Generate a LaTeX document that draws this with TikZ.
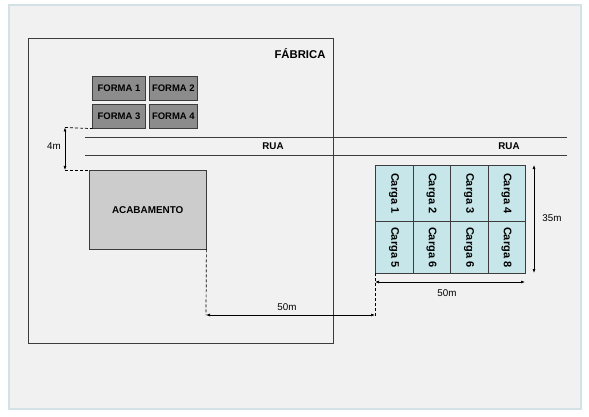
\documentclass[tikz,border=0pt]{standalone}
\usepackage{fontspec}
\setmainfont{Liberation Sans}
\usetikzlibrary{positioning}
\usetikzlibrary{arrows.meta}
\definecolor{panelgray}{HTML}{F1F1F1}
\definecolor{panelrim}{HTML}{D3E2E4}
\definecolor{formagray}{HTML}{8C8C8C}
\definecolor{acabgray}{HTML}{CCCCCC}
\definecolor{cargacyan}{HTML}{C6E6E9}
\definecolor{linegray}{HTML}{3C3C3C}
\tikzset{
    forma/.style = {draw = linegray, fill = formagray, minimum height = 24pt, inner sep = 0pt, font = \fontsize{9.5}{10}\selectfont\bfseries},
    carga/.style = {draw = linegray, fill = cargacyan, minimum width = 37.5pt, inner sep = 0pt, anchor = north west},
    dimline/.style = {{Latex[length=4pt,width=3pt]}-{Latex[length=4pt,width=3pt]}, line width = 0.6pt},
    guide/.style = {draw = black, line width = 0.7pt, dash pattern = on 3pt off 2pt},
    medida/.style = {font = \fontsize{9.8}{10}\selectfont},
}

\begin{document}
\begin{tikzpicture}[x = 1pt, y = -1pt, node distance = 4pt]
        \useasboundingbox (0, 0) rectangle (589, 417);
        \filldraw[fill = panelgray, draw = panelrim, line width = 1.5pt] (9, 5) rectangle (581, 409);
        % fabrica
        \node[draw = linegray, line width = 0.6pt, minimum width = 305pt, minimum height = 305pt, anchor = north west] (fabrica) at (28, 38) {};
        \node[font = \fontsize{11.3}{12}\selectfont\bfseries] (fabricalabel) at (300, 54) {FÁBRICA};
        % formas
        \node[forma, minimum width = 53pt] (forma1) at (119, 88) {FORMA 1};
        \node[forma, minimum width = 48pt, right = 3.5pt of forma1] (forma2) {FORMA 2};
        \node[forma, minimum width = 53pt, below = 4pt of forma1] (forma3) {FORMA 3};
        \node[forma, minimum width = 48pt, right = 3.5pt of forma3] (forma4) {FORMA 4};
        % rua
        \coordinate (ruaNW) at (85, 137);
        \coordinate (ruaNE) at (567, 137);
        \coordinate (ruaSW) at (85, 155);
        \coordinate (ruaSE) at (567, 155);
        \draw[linegray] (ruaNW) -- (ruaNE);
        \draw[linegray] (ruaSW) -- (ruaSE);
        \node[font = \fontsize{9.8}{10}\selectfont\bfseries] (rua1) at (273, 146) {RUA};
        \node[font = \fontsize{9.8}{10}\selectfont\bfseries] (rua2) at (509, 146) {RUA};
        % acabamento
        \node[draw = linegray, fill = acabgray, minimum width = 117pt, minimum height = 79pt, anchor = north west, font = \fontsize{9.9}{10}\selectfont\bfseries] (acab) at (89, 170) {ACABAMENTO};
        % cargas
        \foreach \c/\t in {1/1, 2/2, 3/3, 4/4}
            {
                \node[carga, minimum height = 56pt] (carga\c) at ({375 + 37.5*(\c - 1)}, 165) {};
                \node[rotate = -90, font = \fontsize{11}{12}\selectfont\bfseries] at (carga\c.center) {Carga \t};
            }
        \foreach \c/\t in {5/5, 6/6, 7/6, 8/8}
            {
                \node[carga, minimum height = 52pt] (carga\c) at ({375 + 37.5*(\c - 5)}, 221) {};
                \node[rotate = -90, font = \fontsize{11}{12}\selectfont\bfseries] at (carga\c.center) {Carga \t};
            }
        % medidas
        \coordinate (m4top) at (65, 127.5);
        \coordinate (m4bot) at (65, 170);
        \draw[guide] (m4top) -- (forma3.south west);
        \draw[guide] (m4bot) -- (acab.north west);
        \draw[dimline] (m4top) -- (m4bot);
        \node[medida] (m4label) at (54, 146) {4m};
        \coordinate (m50L) at (206, 315);
        \coordinate (m50R) at (375, 315);
        \coordinate (m50end) at (375, 318);
        \draw[guide] (acab.south east) -- (m50L);
        \draw[guide] (carga5.south west) -- (m50end);
        \draw[dimline] (m50L) -- (m50R);
        \node[medida] (m50label) at (287, 307) {50m};
        \coordinate (m35top) at (534, 165);
        \coordinate (m35bot) at (534, 273);
        \draw[dimline] (m35top) -- (m35bot);
        \node[medida] (m35label) at (552, 218) {35m};
        \coordinate (mcargaL) at (375, 282);
        \coordinate (mcargaR) at (525, 282);
        \draw[dimline] (mcargaL) -- (mcargaR);
        \node[medida] (mcargalabel) at (447, 293) {50m};
    \end{tikzpicture}
\end{document}
